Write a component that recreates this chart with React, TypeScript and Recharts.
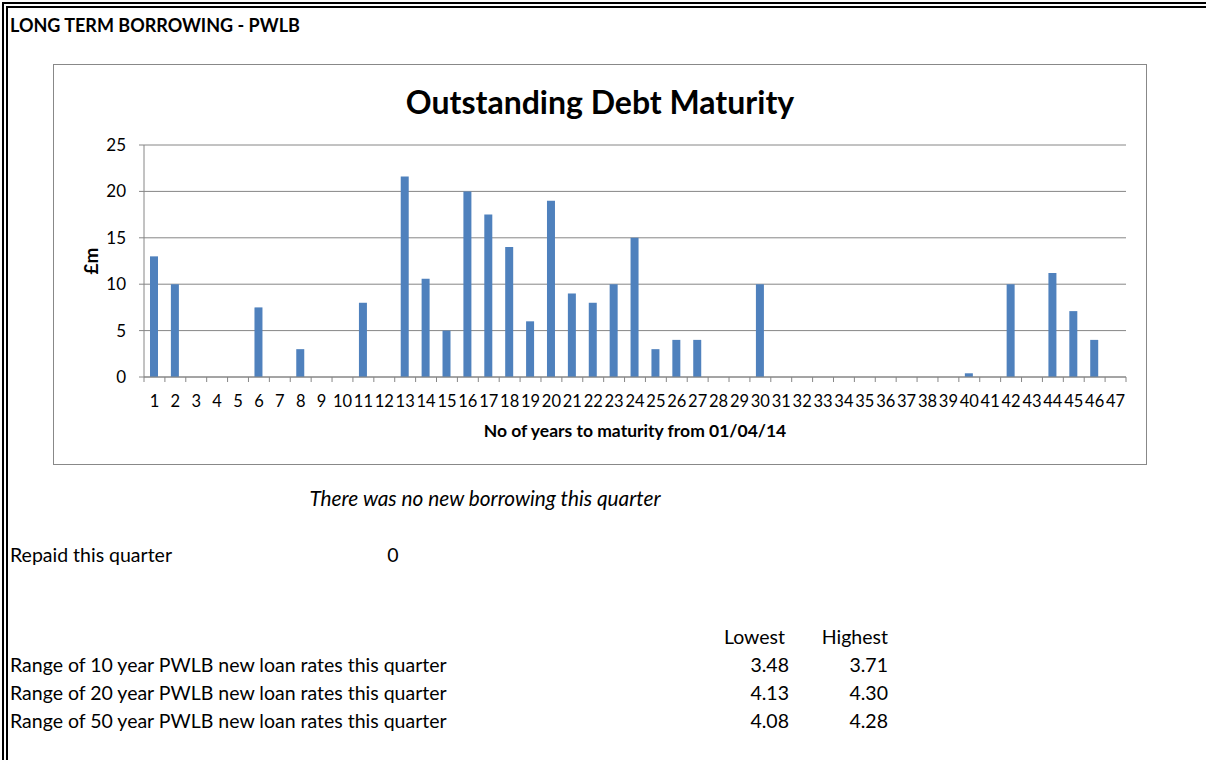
import { BarChart, Bar, XAxis, YAxis, CartesianGrid } from "recharts";

const FONT = "Lato, 'Open Sans', sans-serif";
const AXIS = "#868686";
const BAR = "#4F81BD";

// years to maturity (categories) and outstanding debt in £m
const YEARS = [
  1, 2, 3, 4, 5, 6, 7, 8, 9, 10, 11, 12, 13, 14, 15, 16, 17, 18, 19, 20, 21, 22, 23, 24,
  25, 26, 27, 28, 29, 30, 31, 32, 33, 34, 35, 36, 37, 38, 39, 40, 41, 42, 43, 44, 45, 46, 47,
];
const DEBT_M = [
  13, 10, 0, 0, 0, 7.5, 0, 3, 0, 0, 8, 0, 21.6, 10.6, 5, 20, 17.5, 14, 6, 19, 9, 8, 10, 15,
  3, 4, 4, 0, 0, 10, 0, 0, 0, 0, 0, 0, 0, 0, 0, 0.4, 0, 10, 0, 11.2, 7.1, 4, 0,
];
const Y_TICKS = [0, 5, 10, 15, 20, 25];

// PWLB rate table
const RATE_LABELS = [
  "Range of 10 year PWLB new loan rates this quarter",
  "Range of 20 year PWLB new loan rates this quarter",
  "Range of 50 year PWLB new loan rates this quarter",
];
const RATE_LOW = ["3.48", "4.13", "4.08"];
const RATE_HIGH = ["3.71", "4.30", "4.28"];

const data = YEARS.map((y, i) => ({ year: String(y), debt: DEBT_M[i] }));

const CHART_W = 1092;
const CHART_H = 399;
const Y_AXIS_W = 90;
const MARGIN_R = 20;
const STEP = (CHART_W - Y_AXIS_W - MARGIN_R) / YEARS.length;
const TXT = 19.5;

function YearTick(props: any) {
  const { x, y, payload, index } = props;
  const left = x - STEP / 2;
  const right = x + STEP / 2;
  return (
    <g>
      <line x1={left} x2={left} y1={y} y2={y + 5} stroke={AXIS} />
      {index === YEARS.length - 1 && (
        <line x1={right} x2={right} y1={y} y2={y + 5} stroke={AXIS} />
      )}
      <text x={x} y={y + 30} textAnchor="middle" fontSize={16.5} fill="#000" fontFamily={FONT}>
        {payload.value}
      </text>
    </g>
  );
}

export default function App() {
  return (
    <div
      style={{
        position: "absolute",
        left: 0,
        top: 0,
        width: 1206,
        height: 760,
        background: "#fff",
        fontFamily: FONT,
        overflow: "hidden",
      }}
    >
      <svg width={1206} height={760} style={{ position: "absolute", left: 0, top: 0 }}>
        {/* double border */}
        <line x1={2} x2={1206} y1={3} y2={3} stroke="#000" strokeWidth={2} />
        <line x1={3} x2={3} y1={2} y2={760} stroke="#000" strokeWidth={2} />
        <line x1={6} x2={1206} y1={7} y2={7} stroke="#000" strokeWidth={2} />
        <line x1={7} x2={7} y1={6} y2={760} stroke="#000" strokeWidth={2} />

        <text x={10} y={32} fontSize={18} fontWeight="bold" fontFamily={FONT}>
          LONG TERM BORROWING - PWLB
        </text>
        <text x={485} y={506} textAnchor="middle" fontSize={20.8} fontStyle="italic" fontFamily={FONT}>
          There was no new borrowing this quarter
        </text>
        <text x={10} y={562} fontSize={TXT} fontFamily={FONT}>
          Repaid this quarter
        </text>
        <text x={393} y={562} textAnchor="middle" fontSize={TXT} fontFamily={FONT}>
          0
        </text>
        <text x={785} y={644} textAnchor="end" fontSize={TXT} fontFamily={FONT}>
          Lowest
        </text>
        <text x={888} y={644} textAnchor="end" fontSize={TXT} fontFamily={FONT}>
          Highest
        </text>
        {RATE_LABELS.map((label, i) => (
          <g key={label}>
            <text x={10} y={672 + i * 28} fontSize={TXT} fontFamily={FONT}>
              {label}
            </text>
            <text x={789} y={672 + i * 28} textAnchor="end" fontSize={TXT} fontFamily={FONT}>
              {RATE_LOW[i]}
            </text>
            <text x={888} y={672 + i * 28} textAnchor="end" fontSize={TXT} fontFamily={FONT}>
              {RATE_HIGH[i]}
            </text>
          </g>
        ))}
      </svg>

      <div
        style={{
          position: "absolute",
          left: 53,
          top: 64,
          width: CHART_W + 2,
          height: CHART_H + 2,
          border: "1px solid #888",
          boxSizing: "border-box",
          background: "#fff",
        }}
      >
        <div
          style={{
            position: "absolute",
            left: 0,
            width: CHART_W,
            top: 19,
            textAlign: "center",
            fontSize: 32,
            fontWeight: "bold",
            lineHeight: "36px",
          }}
        >
          Outstanding Debt Maturity
        </div>
        <BarChart
          width={CHART_W}
          height={CHART_H}
          data={data}
          margin={{ top: 80, right: MARGIN_R, left: 0, bottom: 27 }}
          barSize={8}
          style={{ position: "absolute", left: 0, top: 0 }}
        >
          <CartesianGrid vertical={false} stroke={AXIS} />
          <XAxis
            dataKey="year"
            interval={0}
            height={60}
            tickSize={0}
            tickMargin={0}
            axisLine={{ stroke: AXIS }}
            tickLine={false}
            tick={<YearTick />}
            label={{
              value: "No of years to maturity from 01/04/14",
              position: "insideBottom",
              offset: 0,
              style: { fontSize: 17.5, fontWeight: "bold", fill: "#000", fontFamily: FONT },
            }}
          />
          <YAxis
            width={Y_AXIS_W}
            domain={[0, 25]}
            ticks={Y_TICKS}
            tickSize={5}
            tickMargin={13}
            axisLine={{ stroke: AXIS }}
            tickLine={{ stroke: AXIS }}
            tick={{ fontSize: 17, fill: "#000", fontFamily: FONT }}
            label={{
              value: "£m",
              angle: -90,
              position: "insideLeft",
              offset: 37,
              style: { fontSize: 19, fontWeight: "bold", fill: "#000", fontFamily: FONT, textAnchor: "middle" },
            }}
          />
          <Bar dataKey="debt" fill={BAR} isAnimationActive={false} />
        </BarChart>
      </div>
    </div>
  );
}
